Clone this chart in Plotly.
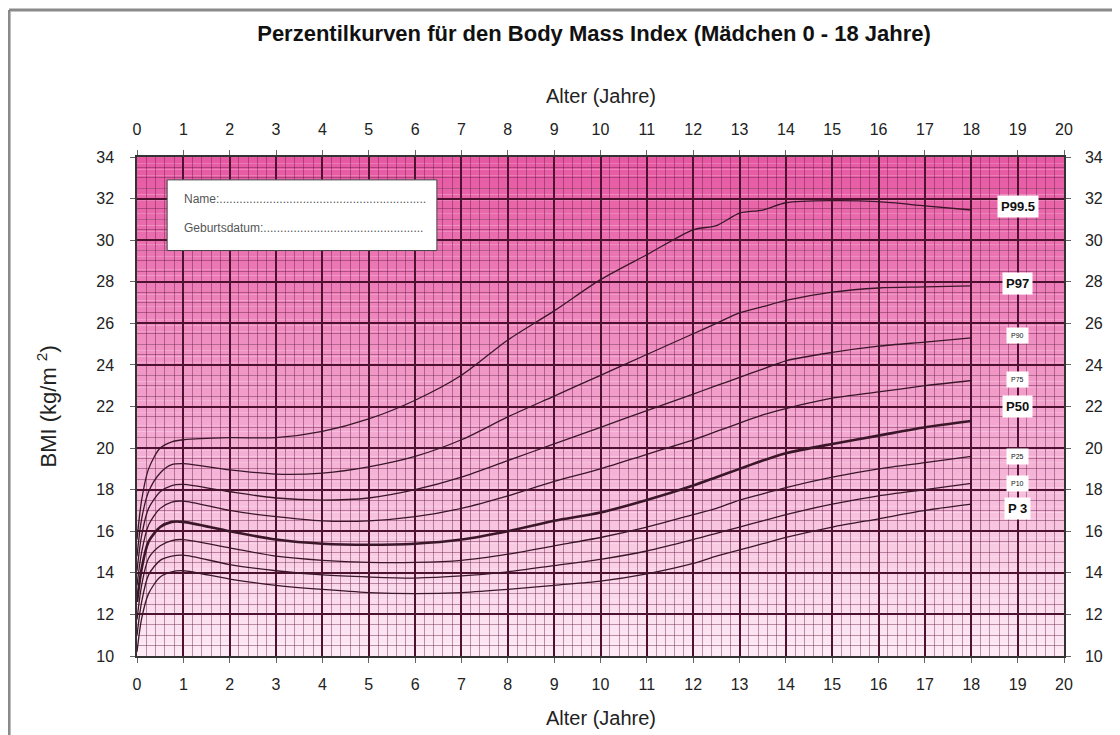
import plotly.graph_objects as go

# ---------------- data ----------------
ages = [0, 0.1, 0.25, 0.5, 0.75, 1, 2, 3, 4, 5, 6, 7, 8, 9, 10, 11, 12, 12.5, 13, 13.5, 14, 15, 16, 17, 18]

p995 = [15.6, 17.5, 19.0, 20.0, 20.3, 20.4, 20.5, 20.5, 20.8, 21.4, 22.3, 23.5, 25.2, 26.6, 28.1, 29.3, 30.5, 30.7, 31.3, 31.45, 31.8, 31.9, 31.85, 31.65, 31.45]
p97 = [14.8, 16.6, 17.9, 18.8, 19.2, 19.25, 18.95, 18.75, 18.8, 19.1, 19.6, 20.4, 21.5, 22.5, 23.5, 24.5, 25.5, 26.0, 26.5, 26.8, 27.1, 27.5, 27.7, 27.75, 27.8]
p90 = [14.1, 15.8, 17.1, 17.9, 18.2, 18.25, 17.9, 17.6, 17.5, 17.6, 18.0, 18.6, 19.4, 20.2, 21.0, 21.8, 22.6, 23.0, 23.4, 23.8, 24.2, 24.6, 24.9, 25.1, 25.3]
p75 = [13.4, 15.0, 16.3, 17.1, 17.4, 17.45, 17.0, 16.7, 16.5, 16.5, 16.7, 17.1, 17.7, 18.4, 19.0, 19.7, 20.4, 20.8, 21.2, 21.6, 21.9, 22.4, 22.7, 23.0, 23.25]
p50 = [12.6, 14.2, 15.5, 16.2, 16.45, 16.45, 16.0, 15.6, 15.4, 15.35, 15.4, 15.6, 16.0, 16.5, 16.9, 17.5, 18.2, 18.6, 19.0, 19.4, 19.75, 20.2, 20.6, 21.0, 21.3]
p25 = [11.75, 13.4, 14.7, 15.3, 15.55, 15.6, 15.2, 14.8, 14.6, 14.5, 14.5, 14.6, 14.9, 15.3, 15.7, 16.2, 16.8, 17.1, 17.5, 17.8, 18.1, 18.6, 19.0, 19.3, 19.6]
p10 = [11.0, 12.6, 13.9, 14.6, 14.8, 14.85, 14.4, 14.1, 13.9, 13.8, 13.75, 13.85, 14.05, 14.35, 14.65, 15.05, 15.6, 15.9, 16.2, 16.5, 16.8, 17.3, 17.7, 18.0, 18.3]
p3 = [10.2, 11.8, 13.0, 13.8, 14.05, 14.1, 13.7, 13.4, 13.2, 13.05, 13.0, 13.05, 13.2, 13.4, 13.6, 13.95, 14.45, 14.8, 15.1, 15.4, 15.7, 16.2, 16.6, 17.0, 17.3]

series_names = ["P99.5", "P97", "P90", "P75", "P50", "P25", "P10", "P3"]
series_values = [p995, p97, p90, p75, p50, p25, p10, p3]
label_texts = ["P99.5", "P97", "P90", "P75", "P50", "P25", "P10", "P 3"]
label_bmi = [31.6, 27.9, 25.4, 23.3, 22.0, 19.6, 18.3, 17.1]
label_bold = [True, True, False, False, True, False, False, True]

x_ticks = list(range(0, 21))
y_ticks = list(range(10, 35, 2))

# ---------------- figure ----------------
fig = go.Figure()
line_col = "#3b1629"
for name, vals in zip(series_names, series_values):
    fig.add_trace(go.Scatter(
        x=ages, y=vals, mode="lines", name=name,
        line=dict(color=line_col, width=2.6 if name == "P50" else 1.3, shape="spline", smoothing=0.8),
        showlegend=False, hoverinfo="x+y+name"))

# invisible trace for secondary axes
fig.add_trace(go.Scatter(x=[0, 20], y=[10, 34], xaxis="x2", yaxis="y2", mode="markers",
                         marker=dict(opacity=0), showlegend=False, hoverinfo="skip"))

# gradient background (strips)
n = 80
top = (231, 88, 163)
bot = (253, 234, 245)
for i in range(n):
    t = i / (n - 1)
    c = tuple(int(round(bot[k] + (top[k] - bot[k]) * t)) for k in range(3))
    y0 = 10 + 24 * i / n
    y1 = 10 + 24 * (i + 1) / n
    fig.add_shape(type="rect", xref="x", yref="y", x0=0, x1=20, y0=y0, y1=y1,
                  fillcolor="rgb(%d,%d,%d)" % c, line=dict(width=0), layer="below")

# name box
fig.add_shape(type="rect", xref="x", yref="y", x0=0.65, x1=6.47, y0=29.5, y1=32.9,
              fillcolor="white", line=dict(color="#444", width=1), layer="above")
fig.add_annotation(x=0.98, y=32.0, xref="x", yref="y", xanchor="left", yanchor="middle",
                   text="Name:" + "." * 62, showarrow=False,
                   font=dict(family="Liberation Sans, Arial", size=12, color="#555"))
fig.add_annotation(x=0.98, y=30.6, xref="x", yref="y", xanchor="left", yanchor="middle",
                   text="Geburtsdatum:" + "." * 48, showarrow=False,
                   font=dict(family="Liberation Sans, Arial", size=12, color="#555"))

# percentile labels
for txt, yb, bold in zip(label_texts, label_bmi, label_bold):
    fig.add_annotation(x=19, y=yb, xref="x", yref="y", text=("<b>%s</b>" % txt) if bold else txt,
                       showarrow=False, bgcolor="white", borderpad=3 if bold else 4,
                       font=dict(family="Liberation Sans, Arial", size=13 if bold else 7, color="#111"))

# outer frame (left & top)
fig.add_shape(type="line", xref="paper", yref="paper", x0=-0.138, x1=-0.138, y0=-0.2, y1=1.2946,
              line=dict(color="#8a8a8a", width=3))
fig.add_shape(type="line", xref="paper", yref="paper", x0=-0.138, x1=1.1, y0=1.2946, y1=1.2946,
              line=dict(color="#8a8a8a", width=3))

tickfont = dict(family="Liberation Sans, Arial", size=16, color="#222")
major = "#4e1230"
minor = "rgba(105,30,70,0.45)"

common_x = dict(range=[0, 20], tickmode="array", tickvals=x_ticks, ticktext=[str(v) for v in x_ticks],
                tickfont=tickfont, ticks="outside", ticklen=5, tickcolor="#666",
                showline=True, linecolor="#333", linewidth=1.5, zeroline=False)
common_y = dict(range=[10, 34], tickmode="array", tickvals=y_ticks, ticktext=[str(v) for v in y_ticks],
                tickfont=tickfont, ticks="outside", ticklen=5, tickcolor="#666",
                showline=True, linecolor="#333", linewidth=1.5, zeroline=False)

W, H = 1112, 727
fig.update_layout(
    width=W, height=H,
    margin=dict(l=129, r=56, t=149, b=79),
    paper_bgcolor="white", plot_bgcolor="white",
    title=dict(text="<b>Perzentilkurven für den Body Mass Index (Mädchen 0 - 18 Jahre)</b>",
               x=0.527, xanchor="center", y=1 - 25 / H, yanchor="middle", yref="container",
               font=dict(family="Liberation Sans, Arial", size=22, color="#111")),
    xaxis=dict(**common_x, showgrid=True, gridcolor=major, gridwidth=1.5,
               minor=dict(dtick=0.2, showgrid=True, gridcolor=minor, gridwidth=1, ticks=""),
               ticklabelstandoff=8, mirror=True),
    yaxis=dict(**common_y, showgrid=True, gridcolor=major, gridwidth=1.5,
               minor=dict(dtick=0.5, showgrid=True, gridcolor=minor, gridwidth=1, ticks=""),
               ticklabelstandoff=13, mirror=True),
    xaxis2=dict(**common_x, overlaying="x", side="top", anchor="y2", showgrid=False, ticklabelstandoff=9),
    yaxis2=dict(**common_y, overlaying="y", side="right", anchor="x2", showgrid=False, ticklabelstandoff=11),
)

fig.add_annotation(x=0.5, y=1, xref="paper", yref="paper", yshift=61, text="Alter (Jahre)",
                   showarrow=False, font=dict(family="Liberation Sans, Arial", size=20, color="#222"),
                   yanchor="middle")
fig.add_annotation(x=0.5, y=0, xref="paper", yref="paper", yshift=-62, text="Alter (Jahre)",
                   showarrow=False, font=dict(family="Liberation Sans, Arial", size=20, color="#222"),
                   yanchor="middle")
fig.add_annotation(x=0, y=0.5, xref="paper", yref="paper", xshift=-91, text="BMI (kg/m <sup>2</sup>)",
                   showarrow=False, textangle=-90, font=dict(family="Liberation Sans, Arial", size=22, color="#222"),
                   xanchor="center")

fig.write_html("out.html")
